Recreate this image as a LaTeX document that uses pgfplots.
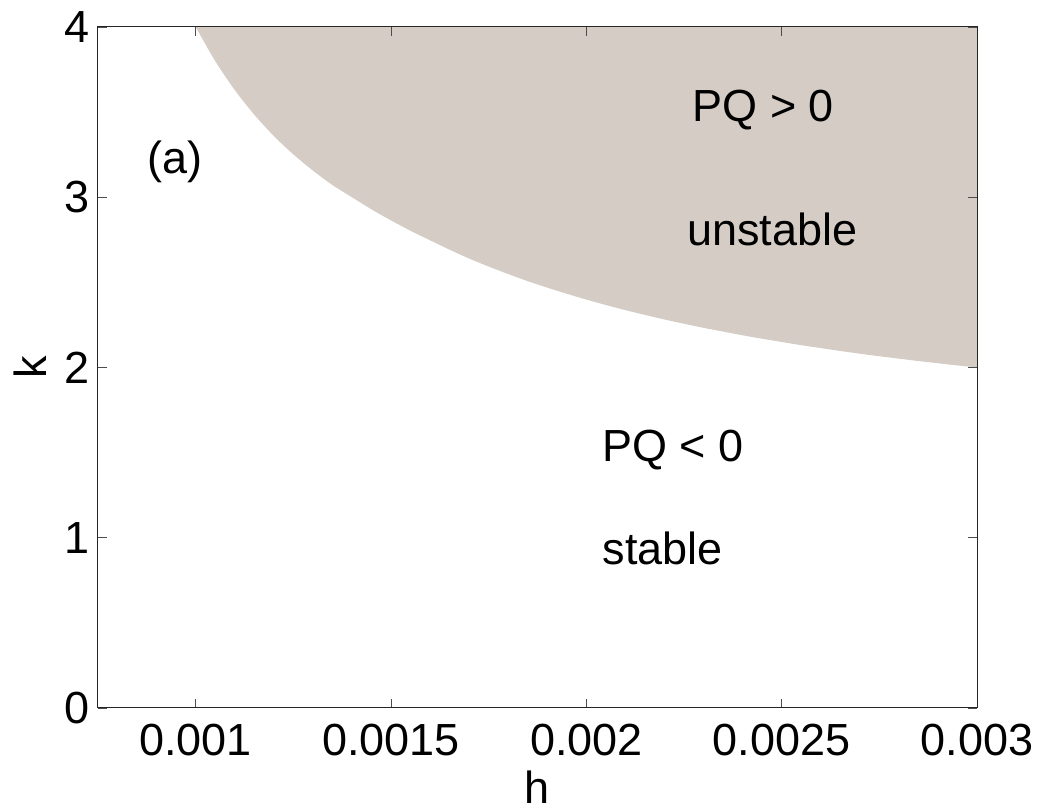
\documentclass[border=0pt]{standalone}
\usepackage{fontspec}
\setmainfont{Liberation Sans}
\usepackage{pgfplots}
\pgfplotsset{compat=1.18}
\definecolor{unst}{RGB}{213,205,197}
\begin{document}
\begin{tikzpicture}[font=\fontsize{18}{22}\selectfont]
\begin{axis}[name=ax, scale only axis, width=351.6pt, height=272.4pt,
  xmin=0.00075, xmax=0.003, ymin=0, ymax=4,
  xtick={0.001,0.0015,0.002,0.0025,0.003},
  xticklabels={0.001,0.0015,0.002,0.0025,0.003},
  ytick={0,1,2,3,4},
  scaled x ticks=false,
  tick align=inside, major tick length=3.5pt,
  /pgf/number format/assume math mode=true,
  ticklabel style={font=\fontsize{18}{22}\selectfont},
  xticklabel style={yshift=-3pt},
  label style={font=\fontsize{18}{22}\selectfont},
  xlabel={h}, ylabel={k},
  xlabel style={yshift=1pt},
  axis line style={black!85},
  tick style={black!70},
  axis on top]
\addplot[fill=unst, draw=none, smooth] coordinates {
  (0.00090,4.424) (0.00095,4.198) (0.00100,4.000) (0.00105,3.800)
  (0.00110,3.630) (0.00115,3.485) (0.00120,3.360) (0.00125,3.252)
  (0.00130,3.157) (0.00135,3.072) (0.00140,3.000) (0.00145,2.929)
  (0.00150,2.864) (0.00155,2.803) (0.00160,2.747) (0.00165,2.692)
  (0.00170,2.640) (0.00175,2.593) (0.00180,2.549) (0.00185,2.507)
  (0.00190,2.469) (0.00195,2.433) (0.00200,2.399) (0.00205,2.367)
  (0.00210,2.337) (0.00215,2.309) (0.00220,2.282) (0.00225,2.257)
  (0.00230,2.233) (0.00235,2.211) (0.00240,2.189) (0.00245,2.169)
  (0.00250,2.150) (0.00255,2.131) (0.00260,2.114) (0.00265,2.097)
  (0.00270,2.081) (0.00275,2.066) (0.00280,2.052) (0.00285,2.038)
  (0.00290,2.025) (0.00295,2.012) (0.00300,2.000) (0.00305,1.988)
  (0.00310,1.977) (0.00330,1.950)
  (0.00330,4.6) (0.00085,4.6)
} -- cycle;
\node at (axis cs:0.000947,3.21) {(a)};
\node at (axis cs:0.002453,3.51) {PQ > 0};
\node at (axis cs:0.002476,2.81) {unstable};
\node at (axis cs:0.002222,1.515) {PQ < 0};
\node at (axis cs:0.002196,0.94) {stable};
\end{axis}
\pgfresetboundingbox
\path[use as bounding box] ([shift={(-39.2pt,-40.8pt)}]ax.south west) rectangle ([shift={(25.2pt,10.8pt)}]ax.north east);
\end{tikzpicture}
\end{document}
